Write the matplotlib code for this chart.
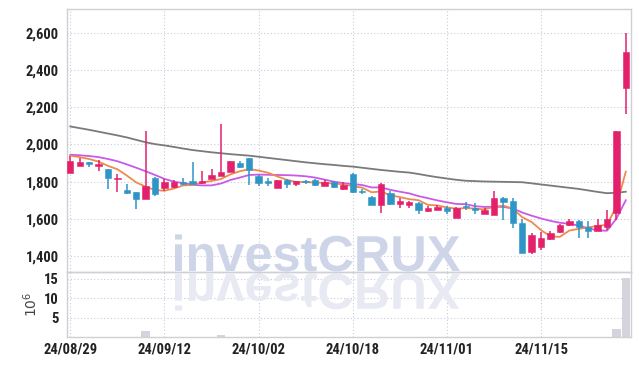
import matplotlib
matplotlib.use("Agg")
import matplotlib.pyplot as plt
from matplotlib.textpath import TextPath
from matplotlib.patches import PathPatch
from matplotlib.font_manager import FontProperties
from matplotlib.transforms import Affine2D, IdentityTransform

# ---------------- data ----------------
dates = ["2024-08-29", "2024-08-30", "2024-09-02", "2024-09-03", "2024-09-04", "2024-09-05",
         "2024-09-06", "2024-09-09", "2024-09-10", "2024-09-11", "2024-09-12", "2024-09-13",
         "2024-09-19", "2024-09-20", "2024-09-23", "2024-09-24", "2024-09-25", "2024-09-26",
         "2024-09-27", "2024-09-30", "2024-10-02", "2024-10-04", "2024-10-07", "2024-10-08",
         "2024-10-10", "2024-10-11", "2024-10-14", "2024-10-15", "2024-10-16", "2024-10-17",
         "2024-10-18", "2024-10-21", "2024-10-22", "2024-10-23", "2024-10-24", "2024-10-25",
         "2024-10-28", "2024-10-29", "2024-10-30", "2024-10-31", "2024-11-01", "2024-11-04",
         "2024-11-05", "2024-11-06", "2024-11-07", "2024-11-08", "2024-11-11", "2024-11-12",
         "2024-11-13", "2024-11-14", "2024-11-15", "2024-11-18", "2024-11-19", "2024-11-20",
         "2024-11-21", "2024-11-22", "2024-11-25", "2024-11-26", "2024-11-27", "2024-11-28"]

opens = [1845, 1886, 1905, 1885, 1868, 1815, 1755, 1743, 1706, 1820,
         1766, 1771, 1795, 1804, 1794, 1816, 1832, 1850, 1902, 1927,
         1831, 1800, 1768, 1810, 1790, 1802, 1809, 1779, 1797, 1760,
         1841, 1752, 1717, 1676, 1740, 1680, 1676, 1685, 1644, 1650,
         1660, 1607, 1668, 1657, 1627, 1622, 1712, 1696, 1580, 1420,
         1450, 1493, 1528, 1565, 1588, 1558, 1535, 1555, 1633, 2304]
highs = [1940, 1927, 1908, 1915, 1868, 1841, 1787, 1743, 2072, 1825,
         1814, 1808, 1820, 1905, 1855, 1868, 2110, 1911, 1910, 1930,
         1835, 1820, 1810, 1815, 1805, 1810, 1812, 1810, 1805, 1798,
         1845, 1762, 1725, 1795, 1752, 1712, 1695, 1692, 1668, 1672,
         1670, 1665, 1690, 1685, 1660, 1752, 1720, 1712, 1600, 1525,
         1530, 1535, 1570, 1600, 1595, 1590, 1600, 1645, 2075, 2600]
lows = [1845, 1886, 1880, 1858, 1760, 1745, 1733, 1653, 1706, 1725,
        1750, 1768, 1780, 1790, 1790, 1812, 1828, 1850, 1875, 1782,
        1775, 1775, 1765, 1768, 1775, 1790, 1775, 1775, 1768, 1755,
        1740, 1735, 1676, 1633, 1675, 1658, 1658, 1627, 1635, 1645,
        1628, 1605, 1650, 1628, 1625, 1620, 1595, 1550, 1415, 1412,
        1435, 1485, 1522, 1560, 1495, 1495, 1532, 1540, 1595, 2164]
closes = [1911, 1905, 1895, 1893, 1820, 1822, 1737, 1706, 1778, 1734,
          1798, 1798, 1790, 1790, 1806, 1834, 1852, 1911, 1878, 1863,
          1795, 1795, 1808, 1788, 1802, 1797, 1782, 1800, 1770, 1780,
          1746, 1745, 1676, 1788, 1680, 1696, 1689, 1648, 1660, 1665,
          1644, 1657, 1665, 1645, 1645, 1712, 1690, 1580, 1418, 1513,
          1495, 1525, 1565, 1588, 1555, 1535, 1565, 1598, 2073, 2498]

ma5 = [1940, 1932, 1922, 1908, 1885, 1867, 1833, 1796, 1773, 1755,
       1751, 1763, 1780, 1782, 1796, 1804, 1814, 1839, 1856, 1868,
       1860, 1848, 1828, 1810, 1798, 1798, 1795, 1794, 1790, 1786,
       1776, 1768, 1743, 1747, 1727, 1717, 1706, 1700, 1675, 1672,
       1661, 1655, 1658, 1655, 1651, 1665, 1671, 1654, 1609, 1583,
       1539, 1506, 1503, 1537, 1546, 1554, 1562, 1568, 1665, 1854]
ma10 = [1945, 1942, 1938, 1932, 1922, 1910, 1893, 1875, 1856, 1836,
        1815, 1800, 1792, 1783, 1780, 1780, 1790, 1809, 1822, 1836,
        1838, 1837, 1836, 1835, 1833, 1829, 1822, 1811, 1800, 1792,
        1787, 1782, 1769, 1769, 1756, 1746, 1737, 1722, 1711, 1699,
        1689, 1680, 1679, 1668, 1664, 1665, 1664, 1656, 1634, 1617,
        1602, 1589, 1579, 1573, 1564, 1549, 1538, 1536, 1601, 1700]
ma60 = [2097, 2088, 2079, 2069, 2059, 2049, 2038, 2025, 2012, 2002,
        1995, 1987, 1978, 1970, 1964, 1958, 1953, 1948, 1944, 1940,
        1934, 1928, 1922, 1916, 1910, 1904, 1899, 1894, 1890, 1885,
        1881, 1875, 1869, 1863, 1858, 1853, 1849, 1841, 1832, 1824,
        1817, 1810, 1805, 1803, 1801, 1800, 1799, 1798, 1797, 1791,
        1785, 1779, 1773, 1767, 1761, 1753, 1745, 1738, 1740, 1746]

volume_m = [0.05, 0.04, 0.03, 0.03, 0.06, 0.05, 0.07, 0.08, 1.6, 0.1,
            0.05, 0.04, 0.03, 0.06, 0.04, 0.05, 0.45, 0.1, 0.05, 0.08,
            0.05, 0.03, 0.04, 0.03, 0.03, 0.02, 0.03, 0.03, 0.03, 0.03,
            0.06, 0.03, 0.04, 0.08, 0.05, 0.03, 0.03, 0.04, 0.03, 0.02,
            0.03, 0.04, 0.03, 0.03, 0.02, 0.06, 0.05, 0.08, 0.1, 0.06,
            0.05, 0.04, 0.04, 0.04, 0.04, 0.03, 0.03, 0.05, 2.1, 15.2]

price_ticks = [1400, 1600, 1800, 2000, 2200, 2400, 2600]
vol_ticks = [5, 10, 15]
label_every = 10

# ---------------- style ----------------
UP = "#e2206b"
DOWN = "#2f95c7"
GRID = "#c9c9de"
SPINE = "#cfcfd6"
TXT = "#222222"
FONT = ["Roboto Condensed", "DejaVu Sans"]

W, H = 639, 366
fig = plt.figure(figsize=(W / 100, H / 100), dpi=100)
L, R = 67, 630.5
ax = fig.add_axes([L / W, (H - 272) / H, (R - L) / W, (272 - 9) / H])
axv = fig.add_axes([L / W, (H - 337) / H, (R - L) / W, (337 - 272) / H], sharex=ax)

n = len(closes)
xs = list(range(n))

# watermark (main + reflection)
fp = FontProperties(family="Liberation Sans", weight="bold")
tp = TextPath((0, 0), "investCRUX", size=1, prop=fp)
bb = tp.get_extents()
s = 285 / bb.width
x0 = 175 - bb.x0 * s
main_path = Affine2D().scale(s, s).translate(x0, H - 271).transform_path(tp)
refl_path = Affine2D().scale(s, -s).translate(x0, H - 274).transform_path(tp)
ax.add_artist(PathPatch(main_path, transform=IdentityTransform(), facecolor="#cfd5e9",
                        edgecolor="none", zorder=0.8, clip_on=False))
axv.add_artist(PathPatch(refl_path, transform=IdentityTransform(), facecolor="#e7e9f3",
                         edgecolor="none", zorder=0.8, clip_on=True))

# moving averages
ax.plot(xs, ma60, color="#7a7a7a", lw=1.3, zorder=2)
ax.plot(xs, ma10, color="#c95ae8", lw=1.3, zorder=2)
ax.plot(xs, ma5, color="#ef8a4e", lw=1.3, zorder=2)

# candles
min_h = 7
for i in xs:
    o, c, hi, lo = opens[i], closes[i], highs[i], lows[i]
    col = UP if c >= o else DOWN
    ax.vlines(i, lo, hi, color=col, lw=1.1, zorder=3)
    bot = min(o, c)
    h = max(abs(c - o), min_h)
    if abs(c - o) < min_h:
        bot = (o + c) / 2 - min_h / 2
    ax.bar(i, h, bottom=bot, width=0.68, color=col, edgecolor=col, lw=0.4, zorder=4)

# volume
axv.bar(xs, volume_m, width=0.9, color="#d4d4dc", edgecolor="none", zorder=2)

# axes formatting
ax.set_xlim(-0.35, n - 0.5)
ax.set_ylim(1314, 2729)
axv.set_ylim(0, 16.8)

ax.set_yticks(price_ticks)
ax.set_yticklabels([f"{v:,}" for v in price_ticks])
axv.set_yticks(vol_ticks)
axv.set_yticklabels([str(v) for v in vol_ticks])

tick_pos = xs[::label_every]
tick_lab = [dates[i][2:].replace("-", "/") for i in tick_pos]
axv.set_xticks(tick_pos)
axv.set_xticklabels(tick_lab)
plt.setp(ax.get_xticklabels(), visible=False)

for a in (ax, axv):
    a.set_facecolor("none")
    a.grid(True, color=GRID, linestyle=(0, (1, 2)), lw=0.8, zorder=0.5)
    a.set_axisbelow(True)
    for sp in a.spines.values():
        sp.set_color(SPINE)
        sp.set_linewidth(1.0)
    a.tick_params(length=0, colors=TXT)
    for lab in a.get_yticklabels() + a.get_xticklabels():
        lab.set_fontfamily(FONT)
        lab.set_fontweight("bold")
        lab.set_fontsize(10.5)
ax.tick_params(axis="y", pad=6)
axv.tick_params(axis="y", pad=6)
axv.tick_params(axis="x", pad=4)

axv.set_ylabel("$10^{6}$", fontsize=10, color="#444444", labelpad=3)

fig.savefig("out.png", dpi=100, facecolor="white")
